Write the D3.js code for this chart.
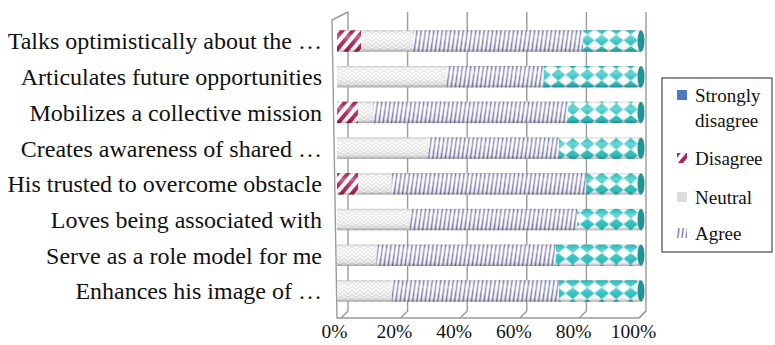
<!DOCTYPE html>
<html>
<head>
<meta charset="utf-8">
<script src="https://cdn.jsdelivr.net/npm/d3@7"></script>
<style>
  html, body { margin: 0; padding: 0; background: #fff; }
  svg { display: block; }
</style>
</head>
<body>
<svg id="chart" width="775" height="345"></svg>
<script>
// Survey items (top to bottom)
const categories = [
  "Talks optimistically about the …",
  "Articulates future opportunities",
  "Mobilizes a collective mission",
  "Creates awareness of shared …",
  "His trusted to overcome obstacle",
  "Loves being associated with",
  "Serve as a role model for me",
  "Enhances his image of …"
];
// Percentage of responses per level
const stronglyDisagree = [0, 0, 0, 0, 0, 0, 0, 0];
const disagree         = [8, 0, 7, 0, 7, 0, 0, 0];
const neutral          = [17, 36, 5, 30, 11, 24, 13, 18];
const agree            = [56, 32, 64, 43, 64, 55, 59, 55];
const stronglyAgree    = [19, 32, 24, 27, 18, 21, 28, 27];
const seriesNames = ["Strongly disagree", "Disagree", "Neutral", "Agree", "Strongly agree"];
const tickValues = [0, 20, 40, 60, 80, 100];

const FONT = "'Liberation Serif', 'Times New Roman', Times, serif";

const svg = d3.select("#chart");
const defs = svg.append("defs");

// ---- fill patterns ----
// Disagree: thick crimson diagonal stripes
const pDis = defs.append("pattern").attr("id", "p-dis")
  .attr("patternUnits", "userSpaceOnUse").attr("width", 8).attr("height", 8)
  .attr("patternTransform", "rotate(40)");
pDis.append("rect").attr("width", 8).attr("height", 8).attr("fill", "#fff");
pDis.append("rect").attr("width", 4).attr("height", 8).attr("fill", "#a8285c");

// Neutral: pale herringbone weave
const pNeu = defs.append("pattern").attr("id", "p-neu")
  .attr("patternUnits", "userSpaceOnUse").attr("width", 8).attr("height", 8);
pNeu.append("rect").attr("width", 8).attr("height", 8).attr("fill", "#fafafa");
pNeu.append("path").attr("d", "M0,2 L4,6 L8,2 M0,6 L2,8 M6,8 L8,6 M2,0 L4,2 L6,0")
  .attr("fill", "none").attr("stroke", "#dedede").attr("stroke-width", 1.2);

// Agree: fine lavender vertical rules
const pAgr = defs.append("pattern").attr("id", "p-agr")
  .attr("patternUnits", "userSpaceOnUse").attr("width", 4.2).attr("height", 24)
  .attr("patternTransform", "skewX(-8)");
pAgr.append("rect").attr("width", 4.2).attr("height", 24).attr("fill", "#fff");
pAgr.append("rect").attr("x", 0.6).attr("width", 1.5).attr("height", 24).attr("fill", "#7b7bb0");

// Strongly agree: teal diamond checker
const pSA = defs.append("pattern").attr("id", "p-sa")
  .attr("patternUnits", "userSpaceOnUse").attr("width", 14.5).attr("height", 11.5);
pSA.append("rect").attr("width", 14.5).attr("height", 11.5).attr("fill", "#fff");
pSA.append("path").attr("d", "M7.25,0 L14.5,5.75 L7.25,11.5 L0,5.75 Z").attr("fill", "#2fc3c3");

// Strongly disagree: solid blue
const fills = ["#4a7cc3", "url(#p-dis)", "url(#p-neu)", "url(#p-agr)", "url(#p-sa)"];

// Cylinder shading overlay
const shade = defs.append("linearGradient").attr("id", "shade")
  .attr("x1", 0).attr("y1", 0).attr("x2", 0).attr("y2", 1);
[[0, "#000", 0.18], [0.12, "#fff", 0.05], [0.3, "#fff", 0.3], [0.55, "#fff", 0.05],
 [0.85, "#000", 0.06], [1, "#000", 0.32]].forEach(([o, c, a]) =>
  shade.append("stop").attr("offset", o).attr("stop-color", c).attr("stop-opacity", a));

// ---- scales ----
const x = d3.scaleLinear().domain([0, 100]).range([337, 641]);      // bar front plane
const xBack = d3.scaleLinear().domain([0, 100]).range([348, 646]);  // back wall
const y = d3.scaleBand().domain(categories).range([16, 316]).padding(0.4);

const wallTop = 12, floorBack = 311, floorFront = 318;
const frame = svg.append("g").attr("stroke", "#9a9a9a").attr("stroke-width", 1.4).attr("fill", "none");

// back-wall gridlines
frame.selectAll("line.grid").data(tickValues).join("line").attr("class", "grid")
  .attr("x1", d => xBack(d)).attr("x2", d => xBack(d))
  .attr("y1", wallTop).attr("y2", floorBack);
// floor depth lines
frame.selectAll("line.floor").data(tickValues).join("line").attr("class", "floor")
  .attr("x1", d => xBack(d)).attr("y1", floorBack)
  .attr("x2", d => xBack(d) - 7).attr("y2", floorFront);
// side wall and floor edges
frame.append("path").attr("d",
  `M${xBack(0)},${wallTop} L${x(0) - 5},${wallTop + 8} L${x(0)},${floorFront} L${xBack(100) - 7},${floorFront} L${xBack(100)},${floorBack}`);

// ---- stacked bars ----
const table = categories.map((c, i) => ({
  cat: c,
  "Strongly disagree": stronglyDisagree[i],
  "Disagree": disagree[i],
  "Neutral": neutral[i],
  "Agree": agree[i],
  "Strongly agree": stronglyAgree[i]
}));
const stacked = d3.stack().keys(seriesNames)(table);

const bars = svg.append("g");
stacked.forEach((layer, k) => {
  bars.append("g").attr("fill", fills[k])
    .selectAll("rect").data(layer.filter(d => d[1] > d[0])).join("rect")
    .attr("x", d => x(d[0])).attr("width", d => x(d[1]) - x(d[0]))
    .attr("y", d => y(d.data.cat)).attr("height", y.bandwidth());
});
// shading over each full cylinder
bars.append("g").selectAll("rect").data(categories).join("rect")
  .attr("x", x(0)).attr("width", x(100) - x(0))
  .attr("y", d => y(d)).attr("height", y.bandwidth())
  .attr("fill", "url(#shade)");
// end caps
bars.append("g").selectAll("ellipse").data(categories).join("ellipse")
  .attr("cx", x(100)).attr("cy", d => y(d) + y.bandwidth() / 2)
  .attr("rx", 3.5).attr("ry", y.bandwidth() / 2)
  .attr("fill", "#1f9494");

// ---- category labels ----
svg.append("g").selectAll("text").data(categories).join("text")
  .attr("x", 322).attr("y", d => y(d) + y.bandwidth() / 2)
  .attr("dy", "0.35em").attr("text-anchor", "end")
  .attr("font-family", FONT).attr("font-size", 24).attr("fill", "#111")
  .text(d => d);

// ---- value axis labels ----
const axis = d3.axisBottom(d3.scaleLinear().domain([0, 100]).range([xBack(0) - 14, xBack(100) - 13]))
  .tickValues(tickValues).tickFormat(d => d + "%").tickSize(0).tickPadding(0);
const ax = svg.append("g").attr("transform", "translate(0,324)").call(axis);
ax.attr("font-family", FONT).attr("font-size", 19.5);
ax.select(".domain").remove();
ax.selectAll("text").attr("fill", "#111");

// ---- legend ----
const lg = svg.append("g").attr("font-family", FONT).attr("font-size", 19);
lg.append("rect").attr("x", 662).attr("y", 78).attr("width", 110).attr("height", 174)
  .attr("fill", "#fff").attr("stroke", "#222").attr("stroke-width", 1);
const legendRows = [
  { fill: fills[0], lines: ["Strongly", "disagree"], y: 95 },
  { fill: fills[1], lines: ["Disagree"], y: 158 },
  { fill: "#dcdcdc", lines: ["Neutral"], y: 197 },
  { fill: fills[3], lines: ["Agree"], y: 233 }
];
legendRows.forEach(r => {
  lg.append("rect").attr("x", 677).attr("y", r.y - 5).attr("width", 10).attr("height", 10)
    .attr("fill", r.fill);
  r.lines.forEach((t, j) => {
    lg.append("text").attr("x", 695).attr("y", r.y + j * 25).attr("dy", "0.35em")
      .attr("fill", "#111").text(t);
  });
});
</script>
</body>
</html>
